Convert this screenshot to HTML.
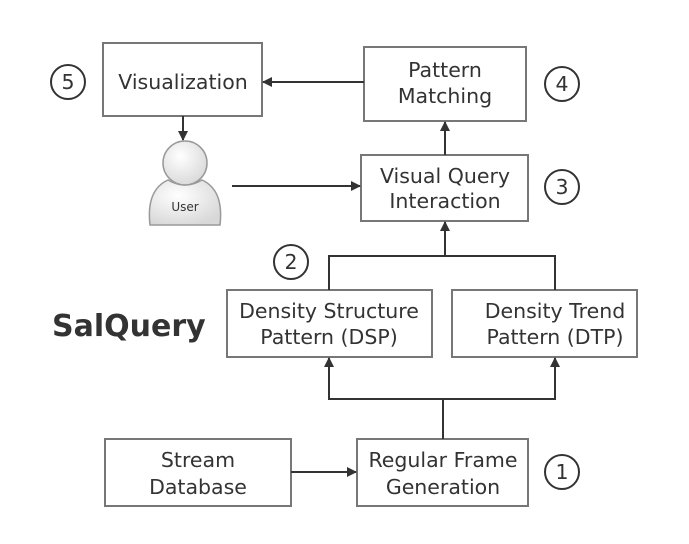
<!DOCTYPE html>
<html><head><style>
body{margin:0;background:#fff;}
svg text{font-family:"DejaVu Sans","Liberation Sans",sans-serif;fill:#333;}
</style></head><body>
<svg width="689" height="539" xmlns="http://www.w3.org/2000/svg">
<defs>
<marker id="a" markerWidth="10" markerHeight="10" refX="9" refY="5" orient="auto" markerUnits="userSpaceOnUse">
<path d="M0,0 L10,5 L0,10 z" fill="#333"/></marker>
<radialGradient id="g" cx="0.4" cy="0.35" r="0.7"><stop offset="0" stop-color="#fff"/><stop offset="1" stop-color="#d8d8d8"/></radialGradient>
</defs>
<g fill="#fff" stroke="#777" stroke-width="2">
<rect x="103" y="43" width="159" height="73"/>
<rect x="364" y="47" width="162" height="74"/>
<rect x="361" y="155" width="167" height="66"/>
<rect x="227" y="290" width="205" height="67"/>
<rect x="452" y="290" width="185" height="67"/>
<rect x="105" y="439" width="186" height="67"/>
<rect x="357" y="439" width="171" height="67"/>
</g>
<g fill="none" stroke="#333" stroke-width="2">
<circle cx="68" cy="82" r="17"/><circle cx="562" cy="84" r="17"/>
<circle cx="562" cy="187" r="17"/><circle cx="291" cy="262" r="17"/>
<circle cx="562" cy="472" r="17"/>
<line x1="364" y1="82" x2="263" y2="82" marker-end="url(#a)"/>
<line x1="445" y1="155" x2="445" y2="122" marker-end="url(#a)"/>
<line x1="183" y1="116" x2="183" y2="140" marker-end="url(#a)"/>
<line x1="232" y1="186" x2="360" y2="186" marker-end="url(#a)"/>
<polyline points="329,290 329,256 555,256 555,290"/>
<line x1="445" y1="256" x2="445" y2="222" marker-end="url(#a)"/>
<polyline points="329,358 329,399 555,399 555,358"/>
<line x1="329" y1="399" x2="329" y2="358" marker-end="url(#a)"/>
<line x1="555" y1="399" x2="555" y2="358" marker-end="url(#a)"/>
<line x1="443" y1="439" x2="443" y2="399"/>
<line x1="291" y1="472" x2="356" y2="472" marker-end="url(#a)"/>
</g>
<g stroke="#999" stroke-width="1.5" fill="url(#g)">
<path d="M150,225 Q146,190 168,180 Q185,190 202,180 Q224,190 220,225 Z"/>
<circle cx="185" cy="163" r="22"/>
</g>
<g font-size="20.5" text-anchor="middle">
<text x="68" y="89">5</text><text x="562" y="91">4</text><text x="562" y="194">3</text>
<text x="291" y="269">2</text><text x="562" y="479">1</text>
<text x="183" y="89">Visualization</text>
<text x="445" y="77">Pattern</text><text x="445" y="103">Matching</text>
<text x="445" y="183">Visual Query</text><text x="445" y="208">Interaction</text>
<text x="329" y="318">Density Structure</text><text x="329" y="344">Pattern (DSP)</text>
<text x="555" y="318">Density Trend</text><text x="555" y="344">Pattern (DTP)</text>
<text x="198" y="467">Stream</text><text x="198" y="494">Database</text>
<text x="443" y="467">Regular Frame</text><text x="443" y="494">Generation</text>
<text x="185" y="211" font-size="12">User</text>
</g>
<text x="52" y="336" font-size="30" font-weight="bold" style="fill:#333">SalQuery</text>
</svg>
</body></html>
